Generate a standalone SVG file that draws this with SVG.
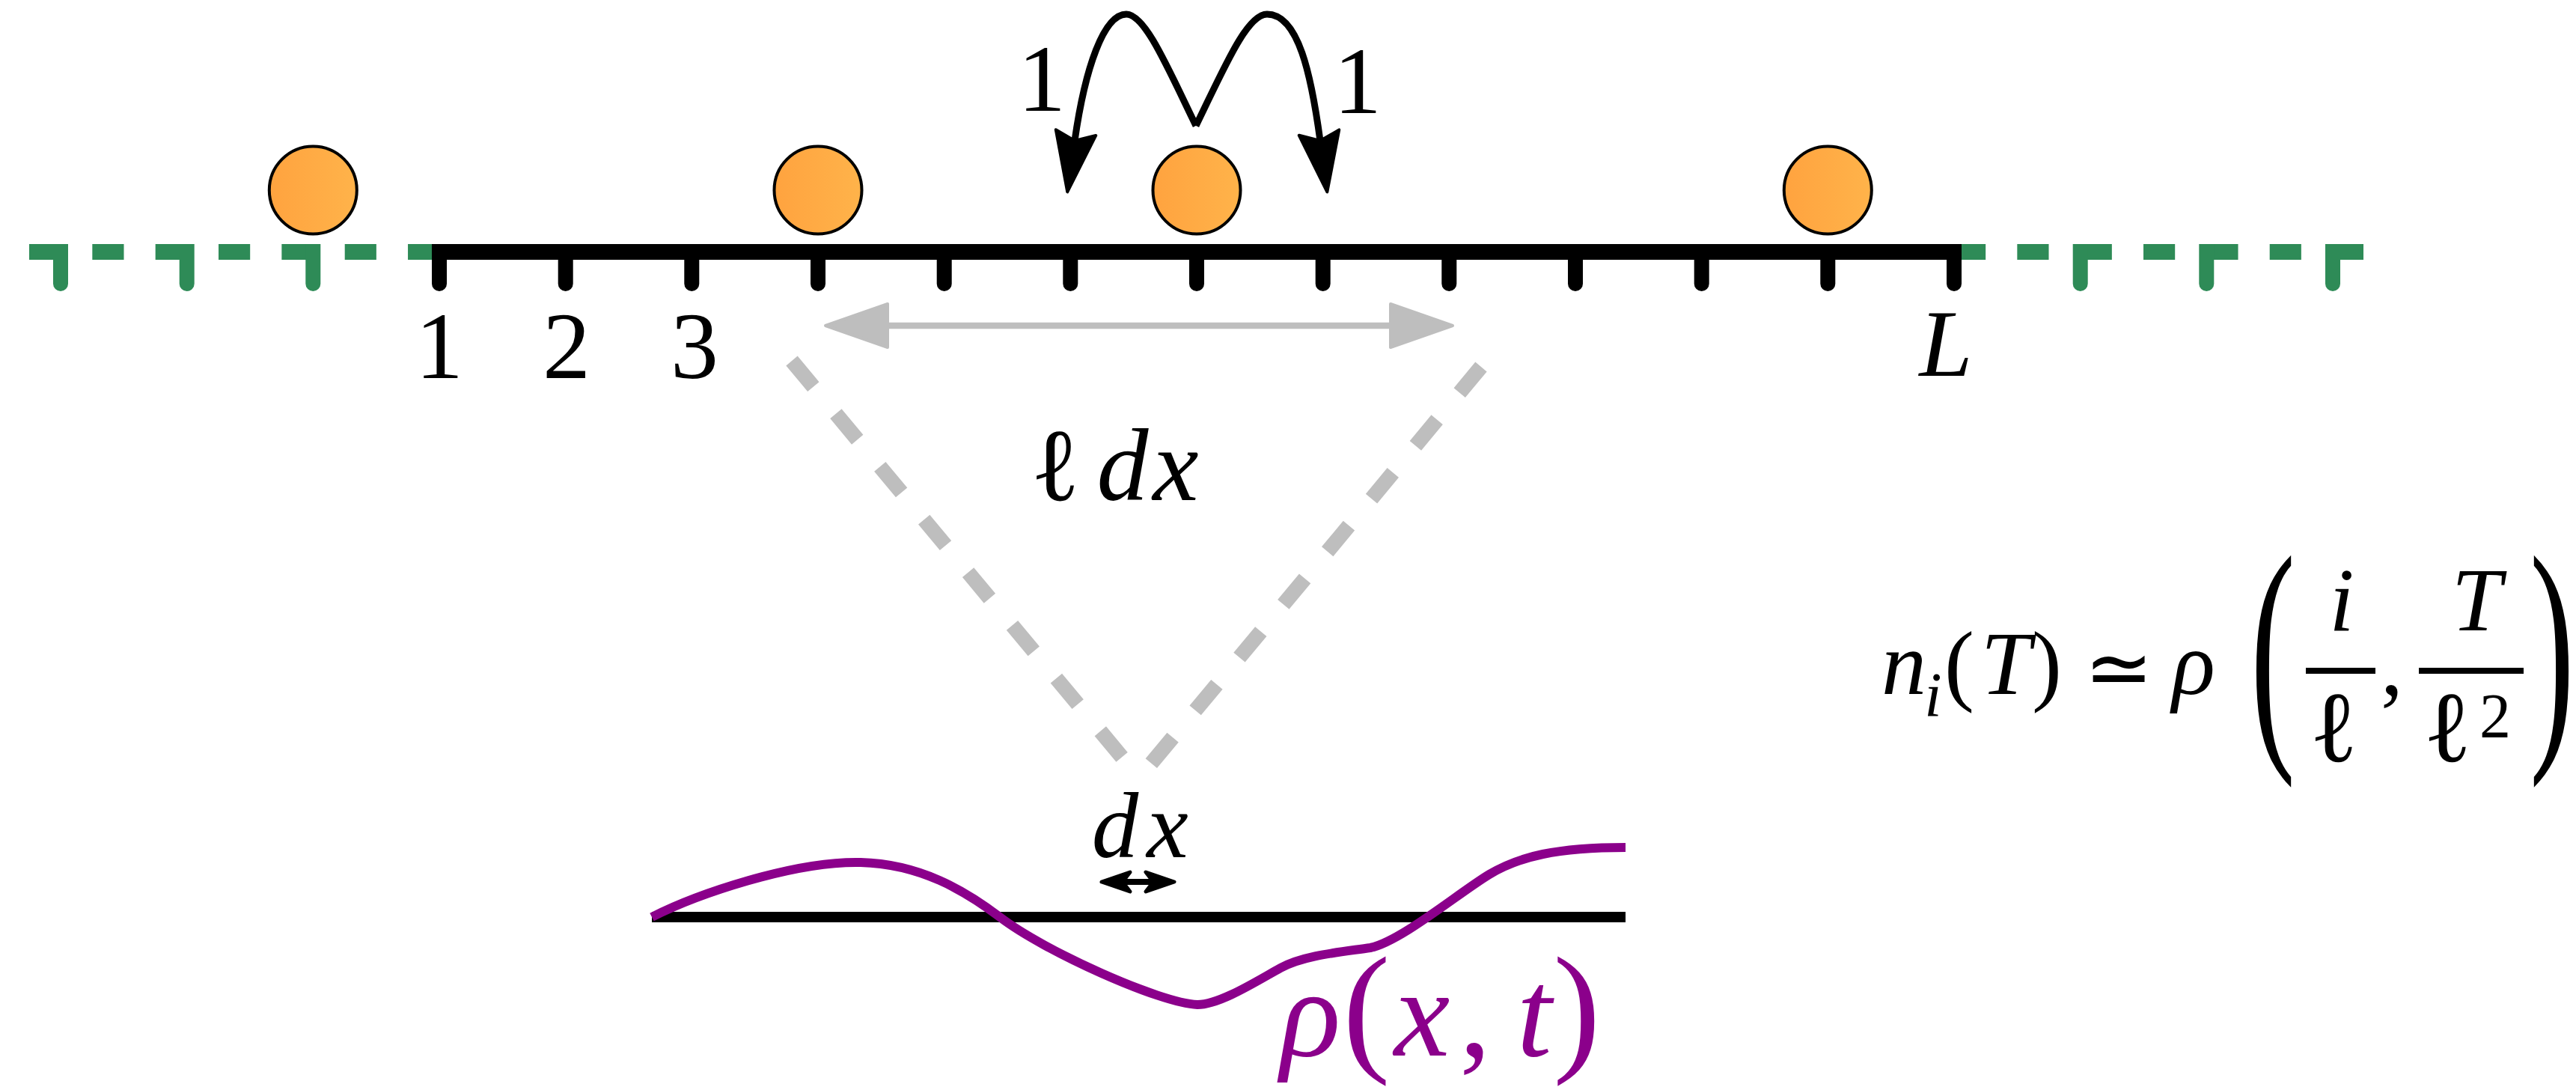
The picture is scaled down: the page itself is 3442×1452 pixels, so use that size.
<svg xmlns="http://www.w3.org/2000/svg" xmlns:xlink="http://www.w3.org/1999/xlink" width="3442" height="1452" viewBox="0 0 3442 1452">
<style>
.t{font-family:'Liberation Serif','Times New Roman',serif;fill:#000;text-anchor:middle}
.it{font-style:italic}
.lab{font-size:128px}
.eq{font-size:120px}
.green{fill:#2E8B57}
.blk{fill:#000}
.gdash{fill:none;stroke:#2E8B57;stroke-width:21;stroke-dasharray:42.17 42.17}
.vdash{fill:none;stroke:#BEBEBE;stroke-width:20;stroke-dasharray:45 47}
.particle{fill:url(#og);stroke:#000;stroke-width:4}
.jump{fill:none;stroke:#000;stroke-width:9}
</style>
<defs>
<linearGradient id="og" x1="0" y1="0" x2="1" y2="0">
<stop offset="0" stop-color="#FFA33F"/>
<stop offset="1" stop-color="#FFB34A"/>
</linearGradient>
<path id="tk" d="M-10,0V53A10,10 0 0 0 10,53V0Z"/>
<marker id="jh" markerUnits="userSpaceOnUse" viewBox="-4 -32 88 64" markerWidth="88" markerHeight="64" refX="11" refY="0" orient="auto" overflow="visible">
<path d="M0,-27L80,0L0,27L11,0Z" fill="#000" stroke="#000" stroke-width="4" stroke-linejoin="round"/>
</marker>
<marker id="gh" markerUnits="userSpaceOnUse" viewBox="-2 -34 92 68" markerWidth="92" markerHeight="68" refX="0" refY="0" orient="auto-start-reverse" overflow="visible">
<path d="M2,-29L85,0L2,29Z" fill="#BEBEBE" stroke="#BEBEBE" stroke-width="4" stroke-linejoin="round"/>
</marker>
<marker id="dh" markerUnits="userSpaceOnUse" viewBox="-4 -18 48 36" markerWidth="48" markerHeight="36" refX="10" refY="0" orient="auto-start-reverse" overflow="visible">
<path d="M0,-13L38,0L0,13L10,0Z" fill="#000" stroke="#000" stroke-width="5" stroke-linejoin="round"/>
</marker>
</defs>
<rect width="3442" height="1452" fill="#fff"/>

<g id="lattice">
<path class="gdash" d="M39,336.5H587"/>
<path class="gdash" d="M2611,336.5H3158"/>
<g class="green">
<use xlink:href="#tk" href="#tk" x="81" y="326"/>
<use xlink:href="#tk" href="#tk" x="249.7" y="326"/>
<use xlink:href="#tk" href="#tk" x="418.3" y="326"/>
<use xlink:href="#tk" href="#tk" x="2779.7" y="326"/>
<use xlink:href="#tk" href="#tk" x="2948.3" y="326"/>
<use xlink:href="#tk" href="#tk" x="3117" y="326"/>
</g>
<g class="blk">
<use xlink:href="#tk" href="#tk" x="587" y="326"/>
<use xlink:href="#tk" href="#tk" x="755.7" y="326"/>
<use xlink:href="#tk" href="#tk" x="924.3" y="326"/>
<use xlink:href="#tk" href="#tk" x="1093" y="326"/>
<use xlink:href="#tk" href="#tk" x="1261.7" y="326"/>
<use xlink:href="#tk" href="#tk" x="1430.3" y="326"/>
<use xlink:href="#tk" href="#tk" x="1599" y="326"/>
<use xlink:href="#tk" href="#tk" x="1767.7" y="326"/>
<use xlink:href="#tk" href="#tk" x="1936.3" y="326"/>
<use xlink:href="#tk" href="#tk" x="2105" y="326"/>
<use xlink:href="#tk" href="#tk" x="2273.7" y="326"/>
<use xlink:href="#tk" href="#tk" x="2442.3" y="326"/>
<use xlink:href="#tk" href="#tk" x="2611" y="326"/>
</g>
<path d="M587,336.5H2611" stroke="#000" stroke-width="21"/>
<text class="t lab" x="587" y="505">1</text>
<text class="t lab" x="757" y="505">2</text>
<text class="t lab" x="928" y="505">3</text>
<text class="t lab it" x="2600" y="502">L</text>
</g>

<g id="particle-1"><circle class="particle" cx="418.3" cy="254" r="58.5"/></g>
<g id="particle-2"><circle class="particle" cx="1093" cy="254" r="58.5"/></g>
<g id="particle-3"><circle class="particle" cx="1599" cy="254" r="58.5"/></g>
<g id="particle-4"><circle class="particle" cx="2442.3" cy="254" r="58.5"/></g>

<g id="connectors">
<path class="jump" d="M1598,168C1560,90 1530,19 1505,19C1475,19 1450,90 1436,188" marker-end="url(#jh)"/>
<path class="jump" d="M1598,168C1636,90 1666,19 1693,19C1735,19 1752,100 1764,188" marker-end="url(#jh)"/>
<path d="M1188,435H1856" stroke="#BEBEBE" stroke-width="8.5" fill="none" marker-start="url(#gh)" marker-end="url(#gh)"/>
<path class="vdash" d="M1058,482L1503,1016"/>
<path class="vdash" d="M1979,490L1533,1026"/>
<path d="M1500,1178H1541" stroke="#000" stroke-width="8" fill="none" marker-start="url(#dh)" marker-end="url(#dh)"/>
</g>

<g id="jump-labels">
<text class="t lab" x="1392" y="148">1</text>
<text class="t lab" x="1814" y="151">1</text>
</g>

<g id="label-ldx">
<text class="t" font-size="138" y="668"><tspan x="1410">ℓ</tspan><tspan x="1500" font-style="italic">d</tspan><tspan x="1571" font-style="italic">x</tspan></text>
</g>

<g id="continuum">
<path d="M871,1225H2172" stroke="#000" stroke-width="14" fill="none"/>
<path d="M871,1225C930,1195 1060,1150 1150,1152C1230,1154 1290,1190 1336,1225C1396,1271 1550,1340 1600,1342C1630,1342 1680,1310 1711,1293C1742,1276 1790,1272 1831,1266C1871,1258 1950,1192 1990,1168C2030,1144 2080,1132 2172,1132" stroke="#8B008B" stroke-width="12" fill="none"/>
<text class="t it" font-size="125" y="1145"><tspan x="1490">d</tspan><tspan x="1560">x</tspan></text>
<text class="t" font-size="168" y="1410" style="fill:#8B008B"><tspan x="1751" font-style="italic">ρ</tspan><tspan x="1826" font-size="190">(</tspan><tspan x="1900" font-style="italic">x</tspan><tspan x="1971">,</tspan><tspan x="2050" font-style="italic">t</tspan><tspan x="2107" font-size="190">)</tspan></text>
</g>

<g id="equation">
<text class="t eq" y="927"><tspan x="2544" font-style="italic">n</tspan><tspan x="2618">(</tspan><tspan x="2680" font-style="italic">T</tspan><tspan x="2735">)</tspan><tspan x="2931" font-style="italic">ρ</tspan><tspan x="3196">,</tspan></text>
<text class="t it" font-size="84" x="2583" y="957">i</text>
<text class="t" font-size="110" x="2831" y="930">≃</text>
<text class="t" font-size="180" transform="translate(3037,979) scale(1,1.9)" x="0" y="0">(</text>
<text class="t" font-size="180" transform="translate(3410,979) scale(1,1.9)" x="0" y="0">)</text>
<text class="t eq it" x="3129" y="842">i</text>
<rect x="3081" y="892" width="93" height="8"/>
<text class="t" font-size="135" x="3118" y="1017">ℓ</text>
<text class="t eq it" x="3309" y="842">T</text>
<rect x="3232" y="892" width="140" height="8"/>
<text class="t" font-size="135" x="3270" y="1017">ℓ</text>
<text class="t" font-size="84" x="3334" y="985">2</text>
</g>
</svg>
